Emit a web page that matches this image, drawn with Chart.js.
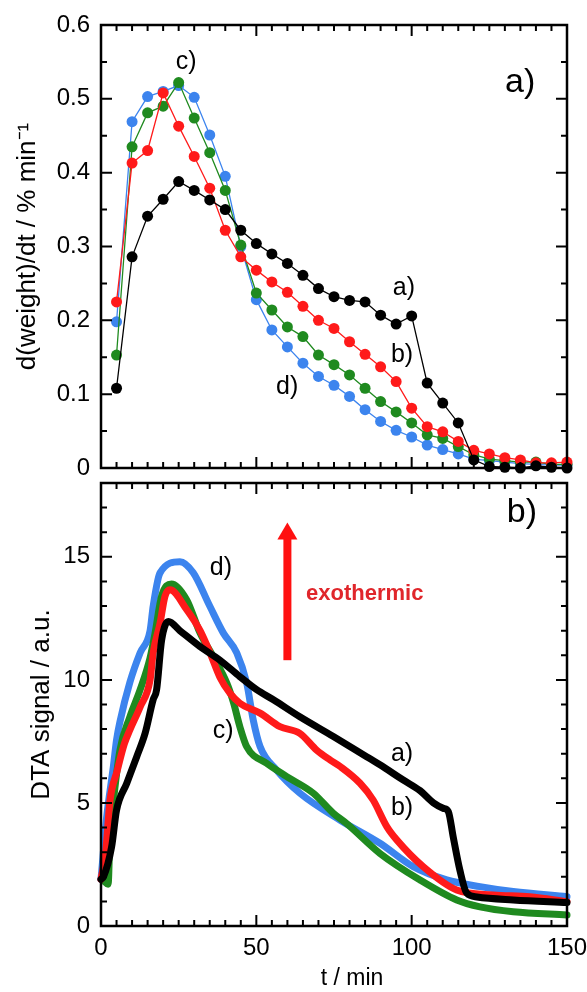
<!DOCTYPE html>
<html>
<head>
<meta charset="utf-8">
<script src="https://cdn.jsdelivr.net/npm/chart.js@4.4.1/dist/chart.umd.min.js"></script>
<style>
  html, body { margin: 0; padding: 0; background: #fff; overflow: hidden; }
  #wrap { position: relative; width: 587px; height: 992px; }
  #tgChart { position: absolute; left: 0; top: 0; }
  #dtaChart { position: absolute; left: 0; top: 463px; }
</style>
</head>
<body>
<div id="wrap">
  <canvas id="tgChart" width="587" height="490"></canvas>
  <canvas id="dtaChart" width="587" height="529"></canvas>
</div>
<script>
// ---- panel a) : derivative of weight, sampled every 5 min ----
const tgTimes = [5, 10, 15, 20, 25, 30, 35, 40, 45, 50, 55, 60, 65, 70, 75, 80, 85, 90, 95, 100,
  105, 110, 115, 120, 125, 130, 135, 140, 145, 150];
const tgA = [0.108, 0.286, 0.341, 0.364, 0.388, 0.376, 0.363, 0.350, 0.322, 0.304, 0.290, 0.277,
  0.261, 0.243, 0.232, 0.227, 0.225, 0.207, 0.195, 0.206, 0.115, 0.088, 0.061, 0.011, 0.002,
  0.001, 0.000, 0.003, 0.001, 0.000];
const tgB = [0.225, 0.413, 0.430, 0.508, 0.463, 0.422, 0.379, 0.322, 0.286, 0.268, 0.252, 0.238,
  0.219, 0.200, 0.189, 0.171, 0.154, 0.137, 0.117, 0.081, 0.056, 0.049, 0.036, 0.024, 0.019,
  0.014, 0.011, 0.007, 0.007, 0.008];
const tgC = [0.153, 0.435, 0.481, 0.490, 0.522, 0.474, 0.427, 0.376, 0.302, 0.237, 0.214, 0.191,
  0.178, 0.153, 0.140, 0.126, 0.108, 0.090, 0.076, 0.061, 0.045, 0.040, 0.029, 0.018, 0.012,
  0.010, 0.008, 0.008, 0.005, 0.005];
const tgD = [0.198, 0.469, 0.503, 0.510, 0.518, 0.502, 0.451, 0.395, 0.300, 0.228, 0.187, 0.164,
  0.142, 0.124, 0.112, 0.097, 0.079, 0.063, 0.051, 0.042, 0.031, 0.025, 0.019, 0.012, 0.010,
  0.008, 0.006, 0.005, 0.004, 0.004];

// ---- panel b) : DTA signal ----
const dtaTimeA = [0, 0.8, 3.4, 5, 8.3, 11.5, 14.2, 16.8, 17.9, 19.5, 21.7, 25.4, 31.9, 38.3, 44.7,
  50.1, 55.5, 64, 74.8, 85.5, 89.8, 97.3, 102.7, 107, 110.2, 111.8, 113.4, 115.5, 117.7, 121, 132.7, 150];
const dtaA = [1.9, 2.0, 3.2, 4.7, 5.8, 6.88, 7.83, 9.2, 9.6, 11.6, 12.37, 12.0, 11.35, 10.8, 10.13,
  9.6, 9.19, 8.5, 7.7, 6.88, 6.55, 5.93, 5.5, 5.0, 4.78, 4.65, 3.6, 2.28, 1.34, 1.18, 1.06, 0.95];
const dtaTimeB = [0, 1.5, 2.9, 5.2, 7.5, 9.3, 12.6, 15.8, 16.8, 19, 20.6, 22.2, 27.6, 31.9, 35.1, 38.3,
  41.5, 44.7, 51.2, 57.6, 64, 69.4, 73.7, 77, 83.4, 87.6, 92, 95.2, 103.7, 114.5, 126.3, 138, 150];
const dtaB = [1.9, 3.0, 5.1, 6.3, 7.4, 7.97, 8.9, 10.0, 11.1, 12.3, 13.4, 13.66, 12.85, 12.0, 11.1,
  10.1, 9.46, 9.05, 8.65, 8.1, 7.83, 7.15, 6.75, 6.48, 5.8, 5.12, 4.04, 3.5, 2.41, 1.46, 1.26, 1.19, 0.99];
const dtaTimeC = [0.8, 2.3, 2.9, 4, 6.1, 9.3, 12.6, 15.8, 17.4, 19.5, 22.7, 27.6, 31.9, 36.1, 40.5,
  42.6, 44.7, 46.9, 53.3, 59.8, 68.3, 74.8, 79, 89.8, 102.7, 114.5, 122, 132.7, 150];
const dtaC = [1.85, 1.7, 3.77, 5.1, 7.15, 8.5, 9.6, 10.9, 11.9, 13.4, 13.9, 13.25, 11.9, 10.95, 9.87,
  9.1, 8.1, 7.29, 6.61, 6.07, 5.4, 4.58, 4.17, 2.95, 1.87, 1.06, 0.78, 0.58, 0.45];
const dtaTimeD = [0, 1.8, 4, 5, 6.1, 9.3, 12.6, 15.8, 16.8, 19, 25.4, 29.7, 35, 39.4, 43.7, 46.9, 49,
  51.2, 56.5, 64, 77, 89.8, 100.5, 111.3, 122, 132.7, 150];
const dtaD = [1.9, 4.4, 6.5, 7.56, 8.3, 9.9, 11.1, 12.0, 13.0, 14.35, 14.8, 14.35, 13.0, 11.9, 11.1,
  9.87, 8.37, 7.29, 6.34, 5.4, 4.3, 3.36, 2.41, 1.87, 1.6, 1.4, 1.19];

const colA = '#000000', colB = '#ff1a1a', colC = '#1f8a1f', colD = '#3c84ee';
const FONT = '"Liberation Sans", Arial, sans-serif';

Chart.defaults.font.family = FONT;
Chart.defaults.color = '#000';

const pts = (xs, ys) => xs.map((x, i) => ({ x: x, y: ys[i] }));

// frame with inward ticks on all four sides
const frameTicks = {
  id: 'frameTicks',
  afterDraw(chart, args, o) {
    const { ctx, chartArea: a, scales: { x, y } } = chart;
    const isMajor = (v, step) => Math.abs(v / step - Math.round(v / step)) < 1e-6;
    ctx.save();
    ctx.strokeStyle = '#000';
    ctx.lineWidth = 2;
    ctx.beginPath();
    for (let v = x.min; v <= x.max + 1e-9; v += o.xMinor) {
      const px = x.getPixelForValue(v);
      const len = isMajor(v, o.xMajor) ? 11 : 6;
      ctx.moveTo(px, a.bottom); ctx.lineTo(px, a.bottom - len);
      ctx.moveTo(px, a.top); ctx.lineTo(px, a.top + len);
    }
    for (let v = y.min; v <= y.max + 1e-9; v += o.yMinor) {
      const py = y.getPixelForValue(v);
      const len = isMajor(v, o.yMajor) ? 11 : 6;
      ctx.moveTo(a.left, py); ctx.lineTo(a.left + len, py);
      ctx.moveTo(a.right, py); ctx.lineTo(a.right - len, py);
    }
    ctx.stroke();
    ctx.lineWidth = 2.5;
    ctx.strokeRect(a.left, a.top, a.right - a.left, a.bottom - a.top);
    ctx.restore();
  }
};

// curve labels, panel labels, x title and the exothermic arrow
const notes = {
  id: 'notes',
  afterDatasetsDraw(chart, args, o) {
    const { ctx, chartArea: a, scales: { x, y } } = chart;
    ctx.save();
    ctx.textBaseline = 'middle';
    (o.labels || []).forEach(l => {
      ctx.font = (l.bold ? 'bold ' : '') + l.size + 'px ' + FONT;
      ctx.fillStyle = l.color || '#000';
      ctx.textAlign = l.align || 'center';
      ctx.fillText(l.text, x.getPixelForValue(l.x), y.getPixelForValue(l.y));
    });
    if (o.xTitle) {
      ctx.font = o.xTitle.size + 'px ' + FONT;
      ctx.fillStyle = '#000';
      ctx.textAlign = 'center';
      ctx.fillText(o.xTitle.text, x.getPixelForValue(o.xTitle.x), a.bottom + o.xTitle.dy);
    }
    if (o.arrow) {
      const ar = o.arrow;
      const px = x.getPixelForValue(ar.x);
      const y0 = y.getPixelForValue(ar.y0), y1 = y.getPixelForValue(ar.y1);
      ctx.fillStyle = ar.color;
      ctx.fillRect(px - 4, y1 + 14, 8, y0 - y1 - 14);
      ctx.beginPath();
      ctx.moveTo(px - 10, y1 + 17);
      ctx.lineTo(px, y1);
      ctx.lineTo(px + 10, y1 + 17);
      ctx.closePath();
      ctx.fill();
    }
    ctx.restore();
  }
};

function tgSet(label, ys, color) {
  return {
    label: label,
    data: pts(tgTimes, ys),
    borderColor: color,
    backgroundColor: color,
    borderWidth: 1.3,
    pointRadius: 5.5,
    pointBorderWidth: 0,
    pointBackgroundColor: color,
    tension: 0,
    clip: false
  };
}

function dtaSet(label, xs, ys, color) {
  return {
    label: label,
    data: pts(xs, ys),
    borderColor: color,
    borderWidth: 7,
    pointRadius: 0,
    cubicInterpolationMode: 'monotone',
    borderCapStyle: 'round',
    borderJoinStyle: 'round',
    clip: false
  };
}

// fixed axis sizes so both plot areas line up with the picture
function fixY(s) { s.width = 101; s.paddingTop = 0; s.paddingBottom = 0; }
function fixX(s) { s.height = 66; s.paddingLeft = 0; s.paddingRight = 0; }

new Chart(document.getElementById('tgChart'), {
  type: 'line',
  data: {
    datasets: [
      tgSet('a)', tgA, colA),
      tgSet('b)', tgB, colB),
      tgSet('c)', tgC, colC),
      tgSet('d)', tgD, colD)
    ]
  },
  options: {
    responsive: false,
    animation: false,
    layout: { padding: { top: 25, right: 20, bottom: 22, left: 0 } },
    plugins: {
      legend: { display: false },
      tooltip: { enabled: false },
      frameTicks: { xMinor: 5, xMajor: 50, yMinor: 0.05, yMajor: 0.1 },
      notes: {
        labels: [
          { text: 'c)', x: 27.4, y: 0.550, size: 25 },
          { text: 'a)', x: 134.9, y: 0.522, size: 34 },
          { text: 'a)', x: 97.5, y: 0.244, size: 25 },
          { text: 'b)', x: 96.9, y: 0.153, size: 25 },
          { text: 'd)', x: 59.9, y: 0.110, size: 25 }
        ]
      }
    },
    scales: {
      x: { type: 'linear', min: 0, max: 150, display: false },
      y: {
        min: 0, max: 0.6,
        afterFit: fixY,
        grid: { display: false, drawTicks: false },
        border: { display: false },
        ticks: { stepSize: 0.1, padding: 11, font: { size: 24 } },
        title: { display: true, text: 'd(weight)/dt / % min⁻¹', font: { size: 26 }, padding: { top: 12 } }
      }
    }
  },
  plugins: [frameTicks, notes]
});

new Chart(document.getElementById('dtaChart'), {
  type: 'line',
  data: {
    datasets: [
      dtaSet('a)', dtaTimeA, dtaA, colA),
      dtaSet('b)', dtaTimeB, dtaB, colB),
      dtaSet('c)', dtaTimeC, dtaC, colC),
      dtaSet('d)', dtaTimeD, dtaD, colD)
    ]
  },
  options: {
    responsive: false,
    animation: false,
    layout: { padding: { top: 20, right: 20, bottom: 0, left: 0 } },
    plugins: {
      legend: { display: false },
      tooltip: { enabled: false },
      frameTicks: { xMinor: 5, xMajor: 50, yMinor: 1, yMajor: 5 },
      notes: {
        labels: [
          { text: 'b)', x: 135.5, y: 16.8, size: 34 },
          { text: 'd)', x: 38.6, y: 14.55, size: 25 },
          { text: 'c)', x: 39.3, y: 7.9, size: 25 },
          { text: 'a)', x: 96.9, y: 7.0, size: 25 },
          { text: 'b)', x: 96.9, y: 4.8, size: 25 },
          { text: 'exothermic', x: 66, y: 13.5, size: 22, bold: true, color: '#e0262b', align: 'left' }
        ],
        xTitle: { text: 't / min', x: 80.8, dy: 53, size: 23 },
        arrow: { x: 60, y0: 10.8, y1: 16.4, color: '#ff1010' }
      }
    },
    scales: {
      x: {
        type: 'linear', min: 0, max: 150,
        afterFit: fixX,
        grid: { display: false, drawTicks: false },
        border: { display: false },
        ticks: { stepSize: 50, padding: 8, font: { size: 24 } }
      },
      y: {
        min: 0, max: 18,
        afterFit: fixY,
        grid: { display: false, drawTicks: false },
        border: { display: false },
        ticks: { stepSize: 5, includeBounds: false, padding: 11, font: { size: 24 } },
        title: { display: true, text: 'DTA signal / a.u.', font: { size: 26 }, padding: { top: 26 } }
      }
    }
  },
  plugins: [frameTicks, notes]
});
</script>
</body>
</html>
